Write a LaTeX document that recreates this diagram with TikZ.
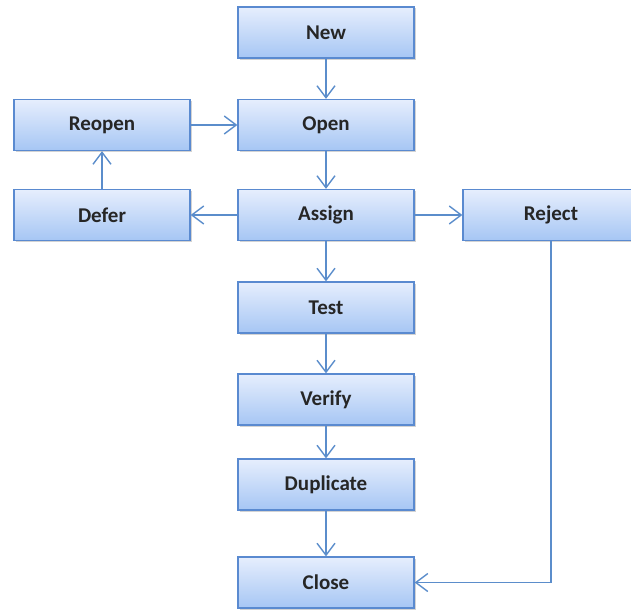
\documentclass[tikz,border=0pt]{standalone}
\usepackage{fontspec}
\setmainfont{Carlito}
\usetikzlibrary{arrows.meta,shadows}
\definecolor{boxtop}{HTML}{E6EEFD}
\definecolor{boxbot}{HTML}{A6C6F4}
\definecolor{boxline}{HTML}{5A8AD0}
\definecolor{arrline}{HTML}{5B8DCB}
\begin{document}
\begin{tikzpicture}[x=1pt,y=-1pt,
  stbox/.style={draw=boxline,line width=1.3pt,top color=boxtop,bottom color=boxbot,
    minimum width=176pt,minimum height=51pt,inner sep=0pt,
    font=\fontsize{21}{24}\selectfont\bfseries,text=black!85,
    drop shadow={shadow xshift=1.5pt,shadow yshift=-1.5pt,opacity=0.35,fill=black!50}},
  conn/.style={draw=arrline,line width=1.4pt,-{Straight Barb[length=12pt,width=18pt]}}]
\useasboundingbox (0,0) rectangle (631,610);
\clip (0,0) rectangle (631,610);
\node[stbox] (new) at (326,32.5) {New};
\node[stbox] (open) at (326,125) {Open};
\node[stbox] (assign) at (326,215) {Assign};
\node[stbox] (test) at (326,307.5) {Test};
\node[stbox] (verify) at (326,399.5) {Verify};
\node[stbox] (dup) at (326,484.5) {Duplicate};
\node[stbox] (close) at (326,582.5) {Close};
\node[stbox] (reopen) at (102,125) {Reopen};
\node[stbox] (defer) at (102,215) {Defer};
\node[stbox] (reject) at (551,215) {Reject};
\coordinate (corner) at (551,582.5);
\draw[conn] (new) -- (open);
\draw[conn] (open) -- (assign);
\draw[conn] (assign) -- (test);
\draw[conn] (test) -- (verify);
\draw[conn] (verify) -- (dup);
\draw[conn] (dup) -- (close);
\draw[conn] (reopen) -- (open);
\draw[conn] (assign) -- (defer);
\draw[conn] (defer) -- (reopen);
\draw[conn] (assign) -- (reject);
\draw[conn] (reject.south -| corner) -- (corner) -- (close.east);
\end{tikzpicture}
\end{document}
